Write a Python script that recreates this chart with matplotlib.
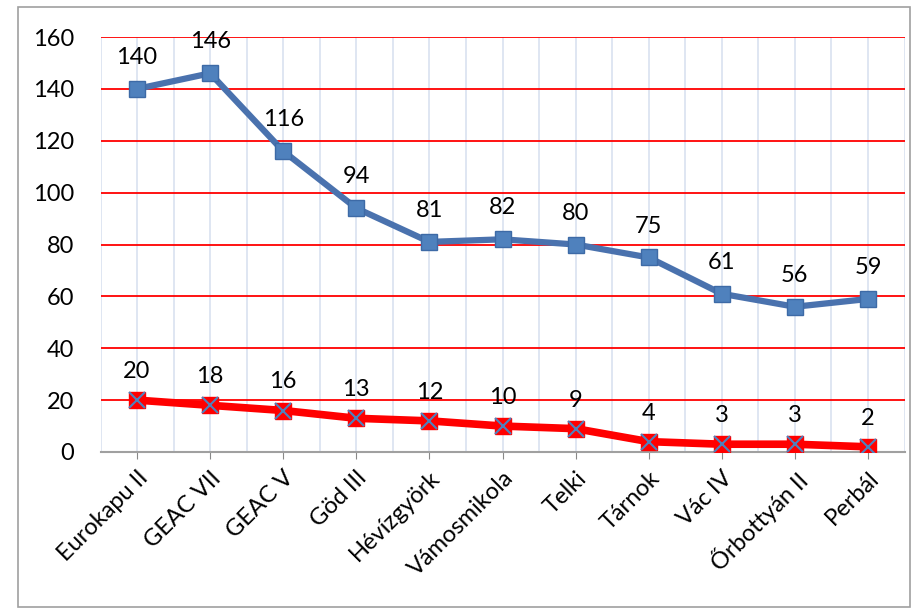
import matplotlib
matplotlib.use("Agg")
import matplotlib.pyplot as plt
from matplotlib.patches import Rectangle

categories = ["Eurokapu II", "GEAC VII", "GEAC V", "Göd III", "Hévízgyörk",
              "Vámosmikola", "Telki", "Tárnok", "Vác IV", "Őrbottyán II", "Perbál"]
series_blue = [140, 146, 116, 94, 81, 82, 80, 75, 61, 56, 59]
series_red = [20, 18, 16, 13, 12, 10, 9, 4, 3, 3, 2]
yticks = [0, 20, 40, 60, 80, 100, 120, 140, 160]

plt.rcParams['font.family'] = ['Lato', 'DejaVu Sans']
FS = 17

fig = plt.figure(figsize=(9.16, 6.09), dpi=100)
fig.patches.append(Rectangle((18/916, 0.004), (910-18)/916, 1-7/609-0.004,
                             transform=fig.transFigure, fill=False,
                             edgecolor='#a0a0a0', linewidth=1.2))
ax = fig.add_axes([100.5/916, 1-452/609, (904.5-100.5)/916, (452-37)/609])

x = list(range(len(categories)))
ax.set_xlim(-0.5, len(categories) - 0.5)
ax.set_ylim(0, 160)

# grid lines
for yv in yticks[1:]:
    ax.axhline(yv, color='#ff0000', linewidth=1.3, zorder=1)
for i in range(len(categories)):
    ax.axvline(i, color='#d9e1f0', linewidth=1.2, zorder=0)
    ax.axvline(i + 0.5, color='#d9e1f0', linewidth=1.2, zorder=0)
ax.axvline(-0.5, color='#d9e1f0', linewidth=1.2, zorder=0)

ax.plot(x, series_blue, color='#4a72ae', linewidth=4.5, marker='s',
        markersize=12, markerfacecolor='#4f81bd', markeredgecolor='#3d6aa6',
        markeredgewidth=1, zorder=3, solid_capstyle='round')
ax.plot(x, series_red, color='#ff0000', linewidth=5.5, marker='s',
        markersize=12, markerfacecolor='#ff0000', markeredgecolor='#ff0000',
        zorder=3)
ax.plot(x, series_red, linestyle='none', marker='x', markersize=11,
        markeredgecolor='#4f81bd', markeredgewidth=1.5, zorder=4)

for xi, v in zip(x, series_blue):
    ax.annotate(str(v), (xi, v), xytext=(0, 15), textcoords='offset points',
                ha='center', va='bottom', fontsize=FS, color='#000000')
for xi, v in zip(x, series_red):
    ax.annotate(str(v), (xi, v), xytext=(0, 13), textcoords='offset points',
                ha='center', va='bottom', fontsize=FS, color='#000000')

ax.set_yticks(yticks)
ax.set_yticklabels([str(t) for t in yticks], fontsize=FS)
ax.set_xticks(x)
ax.set_xticklabels(categories, rotation=45, ha='right', rotation_mode='anchor',
                   fontsize=FS)
ax.tick_params(axis='y', length=0, pad=19)
ax.tick_params(axis='x', length=5, color='#888888', pad=6)

for s in ['top', 'right', 'left']:
    ax.spines[s].set_visible(False)
ax.spines['bottom'].set_color('#a0a0a0')
ax.spines['bottom'].set_linewidth(1.5)

fig.savefig("out.png", dpi=100)
